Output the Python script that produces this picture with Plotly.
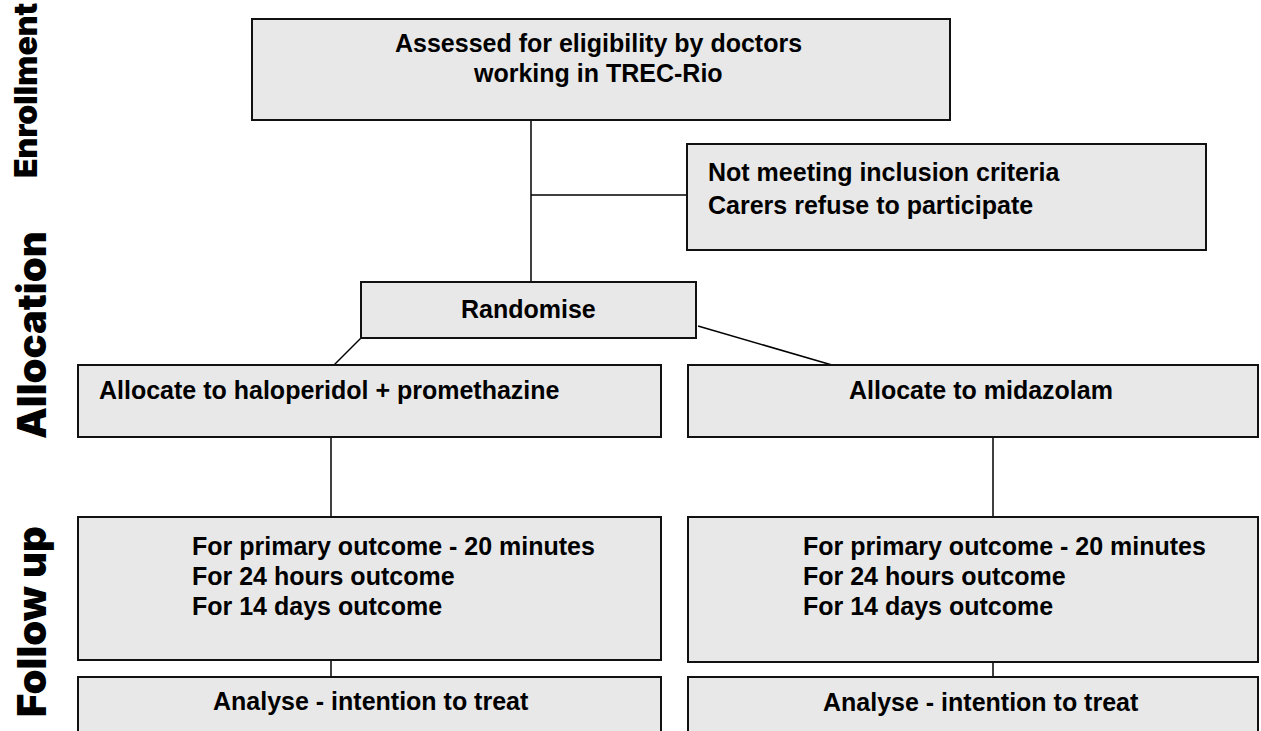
import plotly.graph_objects as go

# ---- content ----
stage_labels = ["Enrollment", "Allocation", "Follow up"]
top_text = ["Assessed for eligibility by doctors", "working in TREC-Rio"]
excluded_text = ["Not meeting inclusion criteria", "Carers refuse to participate"]
randomise_text = ["Randomise"]
arm_labels = ["Allocate to haloperidol + promethazine", "Allocate to midazolam"]
followup_text = ["For primary outcome - 20 minutes", "For 24 hours outcome", "For 14 days outcome"]
analysis_text = ["Analyse - intention to treat", "Analyse - intention to treat"]

# ---- layout (pixel geometry) ----
W, H = 1261, 731
FILL = "#e8e8e8"
FONT = "Liberation Sans, Arial, sans-serif"
FS = 25

boxes = {
    "top": (252, 19, 950, 120),
    "excl": (687, 144, 1206, 250),
    "rand": (361, 282, 696, 338),
    "armL": (78, 365, 661, 437),
    "armR": (688, 365, 1258, 437),
    "fuL": (78, 517, 661, 660),
    "fuR": (688, 517, 1258, 662),
    "anL": (78, 677, 661, 745),
    "anR": (688, 677, 1258, 745),
}

connectors = [
    (531, 120, 531, 282),
    (531, 195, 687, 195),
    (361, 338, 334, 365),
    (698, 326, 832, 365),
    (331, 437, 331, 517),
    (993, 437, 993, 517),
    (331, 660, 331, 677),
    (993, 662, 993, 677),
]

fig = go.Figure()
shapes = []
for (x0, y0, x1, y1) in connectors:
    shapes.append(dict(type="line", x0=x0, y0=y0, x1=x1, y1=y1,
                       line=dict(color="black", width=1.5), layer="below"))
for k, (x0, y0, x1, y1) in boxes.items():
    shapes.append(dict(type="rect", x0=x0, y0=y0, x1=x1, y1=y1,
                       fillcolor=FILL, line=dict(color="#111111", width=2)))

ann = []

def txt(x, y, s, anchor="center", size=FS):
    ann.append(dict(x=x, y=y, text=s, showarrow=False, xanchor=anchor, yanchor="middle",
                    font=dict(family=FONT, size=size, color="black", weight="bold")))

txt(598, 43, top_text[0])
txt(598, 73, top_text[1])
txt(706, 172, excluded_text[0], "left")
txt(706, 205, excluded_text[1], "left")
txt(528, 309, randomise_text[0])
txt(97, 390, arm_labels[0], "left")
txt(981, 390, arm_labels[1])
for i, s in enumerate(followup_text):
    txt(190, 546 + 30 * i, s, "left")
    txt(801, 546 + 30 * i, s, "left")
txt(371, 701, analysis_text[0])
txt(981, 702, analysis_text[1])

# stage labels (rotated)
stage_y = [90, 335, 622]
stage_x = [25, 31, 31]
stage_fonts = ["Inter, Impact, sans-serif", "Inter, Arial Black, sans-serif", "Inter, Arial Black, sans-serif"]
stage_sizes = [32, 40, 40]
for s, x, y, f, sz in zip(stage_labels, stage_x, stage_y, stage_fonts, stage_sizes):
    ann.append(dict(x=x, y=y, text=s, showarrow=False, textangle=-90,
                    xanchor="center", yanchor="middle",
                    font=dict(family=f, size=sz, color="black", weight=900)))

fig.update_layout(
    width=W, height=H, margin=dict(l=0, r=0, t=0, b=0),
    paper_bgcolor="white", plot_bgcolor="white",
    xaxis=dict(range=[0, W], visible=False, fixedrange=True),
    yaxis=dict(range=[H, 0], visible=False, fixedrange=True),
    shapes=shapes, annotations=ann, showlegend=False,
)
fig.write_html("out.html", config={"displayModeBar": False},
               post_script="document.body.style.margin='0';document.body.style.overflow='hidden';")
